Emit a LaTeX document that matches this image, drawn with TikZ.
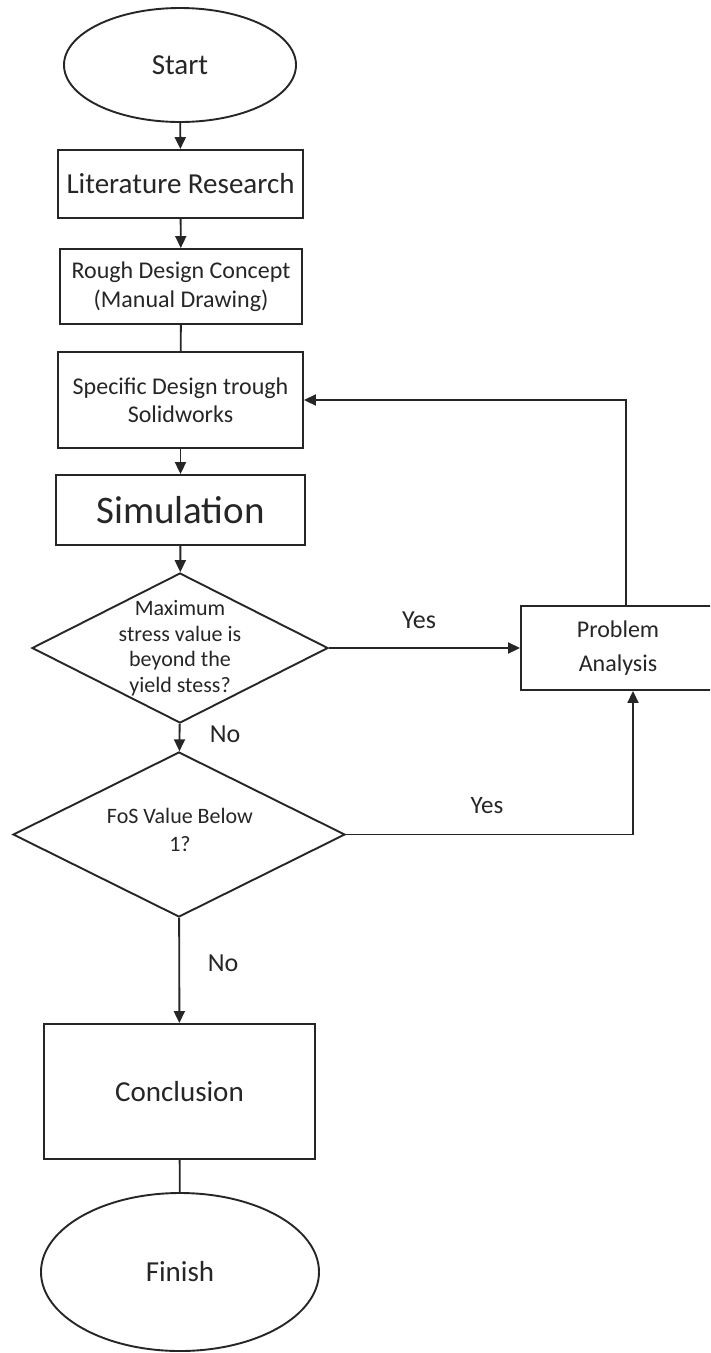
\documentclass[tikz,border=0pt]{standalone}
\usepackage{fontspec}
\setmainfont{Carlito}
\usetikzlibrary{shapes.geometric,arrows.meta}
\tikzset{
  base/.style={draw=black!85, line width=1.9pt, text=black!85, inner sep=0pt, align=center},
  term/.style={base, ellipse},
  procbox/.style={base, rectangle},
  decision/.style={base, diamond},
  arr/.style={draw=black!85, line width=1.9pt, -{Triangle[width=11pt,length=12pt]}},
  plain/.style={draw=black!85, line width=1.9pt},
  lbl/.style={text=black!85, inner sep=0pt},
}
\newcommand{\fs}[2]{\fontsize{#1}{#2}\selectfont}
\begin{document}
\begin{tikzpicture}[x=1pt,y=-1pt]
\clip (0,0) rectangle (710,1353);
\fill[white] (0,0) rectangle (710,1353);

\node[term, minimum width=232pt, minimum height=114pt, font=\fs{29}{33}] (start) at (180,65) {Start};
\node[procbox, minimum width=245pt, minimum height=68pt, font=\fs{29}{33}] (lit) at (180.5,184) {Literature Research};
\node[procbox, minimum width=242pt, minimum height=75pt, font=\fs{24}{29}] (rough) at (181,286.5) {Rough Design Concept\\(Manual Drawing)};
\node[procbox, minimum width=245pt, minimum height=96pt, font=\fs{24}{28}] (spec) at (180.5,400) {Specific Design trough\\Solidworks};
\node[procbox, minimum width=249pt, minimum height=70pt, font=\fs{39}{44}] (sim) at (180.5,510) {Simulation};
\node[decision, minimum width=296pt, minimum height=150pt] (d1) at (180,648) {};
\node[lbl, align=center, font=\fs{22}{25.5}] (d1t) at (180,648) {Maximum\\stress value is\\beyond the\\yield stess?};
\node[procbox, minimum width=194pt, minimum height=84pt, font=\fs{24}{34}] (prob) at (618,648) {Problem\\Analysis};
\node[decision, minimum width=332pt, minimum height=165pt] (d2) at (179,834.5) {};
\node[lbl, align=center, font=\fs{22}{28}] (d2t) at (180,830) {FoS Value Below\\1?};
\node[procbox, minimum width=271pt, minimum height=135pt, font=\fs{29}{33}] (concl) at (179.5,1091.5) {Conclusion};
\node[term, minimum width=278pt, minimum height=158pt, font=\fs{29}{33}] (finish) at (180,1272) {Finish};

\node[lbl, font=\fs{26}{30}] (yes1) at (419,620) {Yes};
\node[lbl, font=\fs{26}{30}] (no1) at (225,734) {No};
\node[lbl, font=\fs{25}{30}] (yes2) at (487,806) {Yes};
\node[lbl, font=\fs{26}{30}] (no2) at (223,963) {No};

\coordinate (c1) at (626,400);
\coordinate (c2) at (633,834.5);

\draw[arr] (start) -- (lit);
\draw[arr] (lit) -- (rough);
\draw[plain] (rough) -- (spec);
\draw[arr] (spec) -- (sim);
\draw[arr] (sim) -- (d1);
\draw[arr] (d1) -- (d2);
\draw[arr] (d1.east) -- (prob.west);
\draw[arr] (d2.east) -- (c2) -- (prob.south -| c2);
\draw[arr] (prob.north -| c1) -- (c1) -- (spec.east);
\draw[arr] (d2) -- (concl);
\draw[plain] (concl) -- (finish);
\end{tikzpicture}
\end{document}
